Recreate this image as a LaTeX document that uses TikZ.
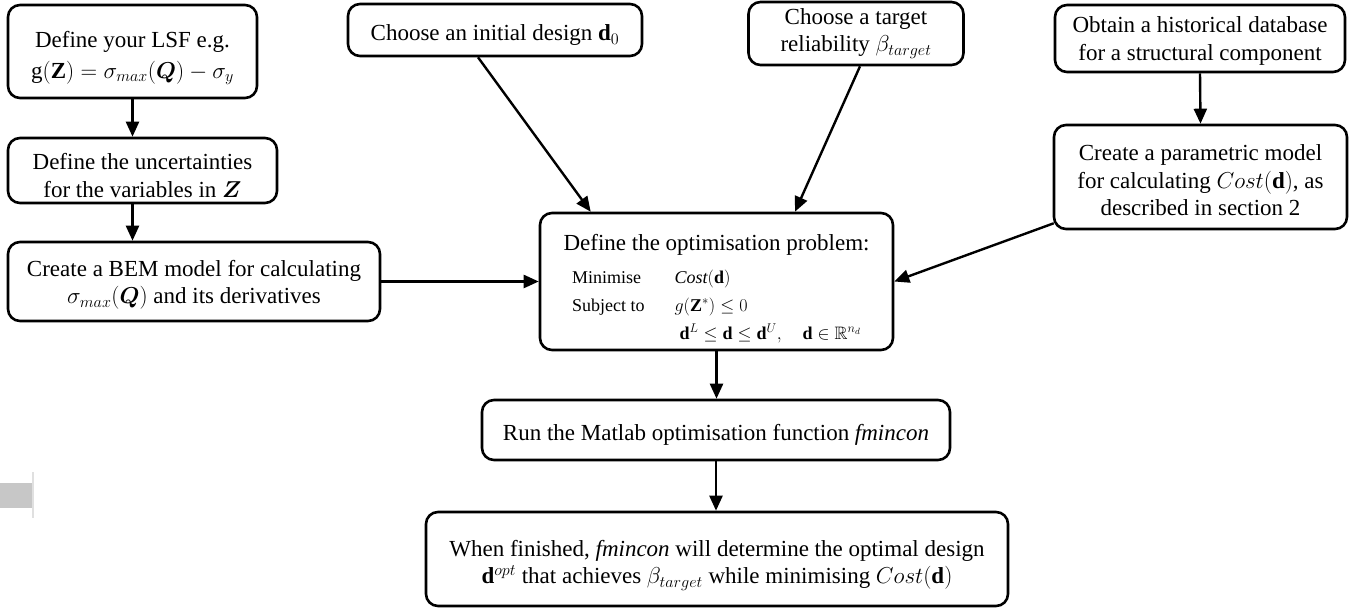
\documentclass[tikz,border=0pt]{standalone}
\usepackage{fix-cm}
\usepackage{amsmath,amssymb,bm}
\usepackage{fontspec}
\setmainfont{Liberation Serif}
\usetikzlibrary{arrows.meta,calc}
\newcommand{\tup}[1]{\rule{0pt}{#1pt}}
\tikzset{
  box/.style={draw, line width=2.6pt, rounded corners=12pt, align=center, inner sep=0pt,
    font=\fontsize{23}{27.5}\selectfont},
  arr/.style={-{Triangle[length=15pt,width=13pt]}, line width=2.4pt},
}
\begin{document}
\begin{tikzpicture}[x=1pt,y=-1pt]
\useasboundingbox (0,0) rectangle (1368,609);
% faint grey mark at the left edge
\fill[black!22] (0,483) rectangle (33,508);
\draw[black!12, line width=2pt] (33,472) -- (33,518);

\node[box, minimum width=249pt, minimum height=93pt] (A) at (132.5,51.5)
  {\tup{30}Define your LSF e.g.\\[3pt] $\mathrm{g}(\mathbf{Z}) = \sigma_{max}(\bm{Q}) - \sigma_y$};
\node[box, minimum width=269pt, minimum height=65pt] (B) at (142.5,170.5)
  {\tup{26.5}Define the uncertainties\\ for the variables in $\bm{Z}$};
\node[box, minimum width=372pt, minimum height=79pt] (C) at (194,281.5)
  {\tup{22.5}Create a BEM model for calculating\\ $\sigma_{max}(\bm{Q})$ and its derivatives};
\node[box, minimum width=294pt, minimum height=52pt] (D) at (495,30)
  {\tup{26.5}Choose an initial design $\mathbf{d}_0$};
\node[box, minimum width=215pt, minimum height=63pt] (E) at (856,33.5)
  {Choose a target\\ reliability $\beta_{target}$};
\node[box, minimum width=290pt, minimum height=67pt] (F) at (1200,38.5)
  {\tup{20.5}Obtain a historical database\\ for a structural component};
\node[box, minimum width=293pt, minimum height=104pt] (G) at (1200.5,177)
  {\tup{22.5}Create a parametric model\\ for calculating $Cost(\mathbf{d})$, as\\ described in section 2};
\node[box, minimum width=353pt, minimum height=137pt] (H) at (716.5,281.5)
  {\begin{tabular}{@{}c@{}}
   \tup{35}Define the optimisation problem:\\[5pt]
   {\fontsize{18}{28}\selectfont
   \begin{tabular}{@{}l@{\hspace{30pt}}l@{}}
   Minimise & $\mathit{Cost}(\mathbf{d})$\\
   Subject to & $g(\mathbf{Z}^{*}) \le 0$\\
   & $\;\mathbf{d}^{L} \le \mathbf{d} \le \mathbf{d}^{U},\quad \mathbf{d}\in\mathbb{R}^{n_d}$
   \end{tabular}}
   \end{tabular}};
\node[box, minimum width=468pt, minimum height=60pt] (I) at (716,430)
  {\tup{26.5}Run the Matlab optimisation function \textit{fmincon}};
\node[box, minimum width=582pt, minimum height=94pt] (J) at (717,559)
  {\tup{28.5}When finished, \textit{fmincon} will determine the optimal design\\
   $\mathbf{d}^{opt}$ that achieves $\beta_{target}$ while minimising $Cost(\mathbf{d})$};

\draw[arr] (A.south) -- (A.south |- B.north);
\draw[arr] (A.south |- B.south) -- (A.south |- C.north);
\draw[arr] (C.east) -- (H.west);
\draw[arr] ($(D.south)+(-17,0)$) -- ($(H.north west)+(52,0)$);
\draw[arr] ($(E.south)+(4,0)$) -- ($(H.north)+(78.5,0)$);
\draw[arr] (F.south) -- (G.north);
\draw[arr] ($(G.south west)+(1,-7)$) -- (H.east);
\draw[arr] (H.south) -- (H.south |- I.north);
\draw[arr] (I.south) -- (I.south |- J.north);
\end{tikzpicture}
\end{document}
